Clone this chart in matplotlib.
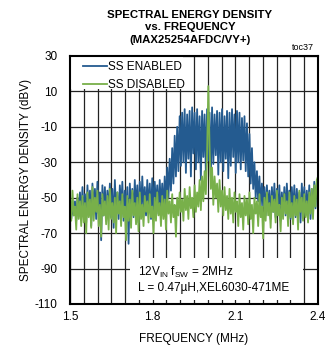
import numpy as np
import matplotlib
matplotlib.use("Agg")
import matplotlib.pyplot as plt
from matplotlib import font_manager
from matplotlib.patches import Rectangle

# ---------------- data ----------------
x_ticks = [1.5, 1.8, 2.1, 2.4]
y_ticks = [30, 10, -10, -30, -50, -70, -90, -110]

ss_enabled = [
    -56, -62, -54, -60, -52, -63, -50, -58, -47, -61,
    -44, -60, -48, -64, -43, -58, -46, -66, -42, -57,
    -45, -62, -41, -59, -47, -74, -43, -60, -44, -63,
    -46, -58, -42, -61, -45, -67, -40, -59, -47, -62,
    -43, -57, -41, -63, -46, -60, -44, -76, -42, -58,
    -45, -61, -40, -57, -43, -64, -41, -59, -38, -56,
    -44, -60, -40, -58, -42, -62, -39, -57, -41, -55,
    -43, -59, -40, -56, -42, -58, -38, -54, -33, -50,
    -28, -46, -22, -42, -15, -38, -10, -35, -4, -32,
    -2, -30, 0, -36, -3, -28, -1, -38, 1, -25,
    -2, -34, 0, -30, -4, -40, -1, -27, -3, -36,
    0, -29, -2, -38, 1, -31, -3, -26, -1, -37,
    -2, -30, 0, -35, -4, -28, -1, -39, -2, -32,
    0, -27, -3, -36, -1, -30, -2, -34, -5, -29,
    -4, -35, -8, -38, -14, -42, -22, -45, -30, -50,
    -35, -52, -38, -56, -42, -55, -44, -60, -43, -57,
    -46, -62, -44, -58, -42, -61, -45, -59, -43, -63,
    -47, -58, -44, -60, -42, -57, -46, -62, -44, -59,
    -43, -61, -45, -58, -47, -64, -42, -57, -44, -60,
    -46, -58, -43, -62, -45, -59, -41, -56, -42, -44,
]

ss_disabled = [
    -50, -63, -46, -60, -55, -68, -48, -62, -52, -66,
    -49, -64, -53, -70, -47, -61, -51, -67, -44, -63,
    -50, -58, -46, -66, -54, -72, -48, -60, -52, -65,
    -49, -68, -45, -62, -53, -64, -50, -70, -47, -59,
    -52, -66, -48, -61, -55, -74, -49, -63, -51, -67,
    -46, -60, -53, -65, -50, -69, -47, -62, -54, -66,
    -49, -58, -52, -64, -48, -61, -55, -70, -50, -63,
    -47, -60, -53, -66, -49, -62, -51, -68, -46, -59,
    -52, -64, -48, -61, -54, -72, -50, -60, -47, -58,
    -51, -63, -45, -57, -49, -62, -44, -56, -50, -61,
    -43, -58, -47, -55, -40, -57, -38, -52, -35, -48,
    -25, 13, -22, -45, -33, -54, -38, -50, -42, -58,
    -40, -55, -46, -60, -44, -57, -49, -62, -45, -59,
    -50, -64, -47, -58, -52, -66, -48, -61, -53, -68,
    -49, -60, -51, -65, -47, -62, -54, -70, -50, -59,
    -52, -66, -48, -61, -55, -73, -50, -63, -47, -60,
    -53, -67, -49, -58, -51, -64, -46, -60, -54, -69,
    -50, -62, -48, -59, -52, -66, -47, -61, -53, -65,
    -49, -60, -51, -68, -46, -58, -50, -63, -48, -61,
    -52, -64, -47, -59, -45, -62, -43, -55, -40, -38,
]

freq = np.linspace(1.5, 2.4, len(ss_enabled))

# ---------------- style ----------------
avail = {f.name for f in font_manager.fontManager.ttflist}
narrow = "Liberation Sans Narrow" if "Liberation Sans Narrow" in avail else "Liberation Sans"
plt.rcParams['font.family'] = [narrow, 'DejaVu Sans']

BLUE = '#245b90'
GREEN = '#78b04a'

fig = plt.figure(figsize=(3.26, 3.56), dpi=100)
ax = fig.add_axes([70/326, 1-304/356, 248/326, 248/356])

ax.plot(freq, ss_enabled, color=BLUE, lw=1.3, zorder=3, label='SS ENABLED')
ax.plot(freq, ss_disabled, color=GREEN, lw=1.3, zorder=4, label='SS DISABLED')

ax.set_xlim(1.5, 2.4)
ax.set_ylim(-110, 30)
ax.set_xticks(x_ticks)
ax.set_xticklabels([f"{v:.1f}" for v in x_ticks])
ax.set_xticks(np.arange(1.5, 2.4001, 0.05), minor=True)
ax.set_yticks(y_ticks)
ax.set_yticklabels([str(v) for v in y_ticks])
ax.tick_params(which='both', length=0, labelsize=8.5)
ax.tick_params(axis='y', pad=9)
ax.tick_params(axis='x', pad=5)
ax.grid(which='both', axis='x', color='#222222', lw=0.9, zorder=1)
ax.grid(which='major', axis='y', color='#222222', lw=0.9, zorder=1)
for s in ax.spines.values():
    s.set_linewidth(1.5)
    s.set_zorder(8)

ax.set_xlabel('FREQUENCY (MHz)', fontsize=8.5, labelpad=7)
ax.set_ylabel('SPECTRAL ENERGY DENSITY (dBV)', fontsize=8.5, labelpad=2)

# white backgrounds for legend and note
ax.add_patch(Rectangle((0, 0.867), 0.456, 0.2, transform=ax.transAxes,
                       facecolor='white', edgecolor='none', zorder=5))
ax.add_patch(Rectangle((0.242, 0.016), 0.698, 0.169, transform=ax.transAxes,
                       facecolor='white', edgecolor='none', zorder=5))

leg = ax.legend(loc='upper left', bbox_to_anchor=(0.052, 0.978), frameon=False,
                fontsize=8.5, handlelength=2.0, handletextpad=0.12,
                borderpad=0, borderaxespad=0, labelspacing=0.45)
leg.set_zorder(6)

ax.text(0.274, 0.113, '12V$_{\\mathregular{IN}}$ f$_{\\mathregular{SW}}$ = 2MHz',
        transform=ax.transAxes, fontsize=8.5, ha='left', va='baseline', zorder=7)
ax.text(0.274, 0.052, 'L = 0.47\u00b5H,XEL6030-471ME',
        transform=ax.transAxes, fontsize=8.5, ha='left', va='baseline', zorder=7)

fig.text(190/326, 1-9.5/356, 'SPECTRAL ENERGY DENSITY\nvs. FREQUENCY\n(MAX25254AFDC/VY+)',
         ha='center', va='top', fontsize=8.2, fontweight='bold', linespacing=1.32)
fig.text(303/326, 1-47/356, 'toc37', ha='center', va='center', fontsize=6.5)

fig.savefig('out.png', dpi=100)
